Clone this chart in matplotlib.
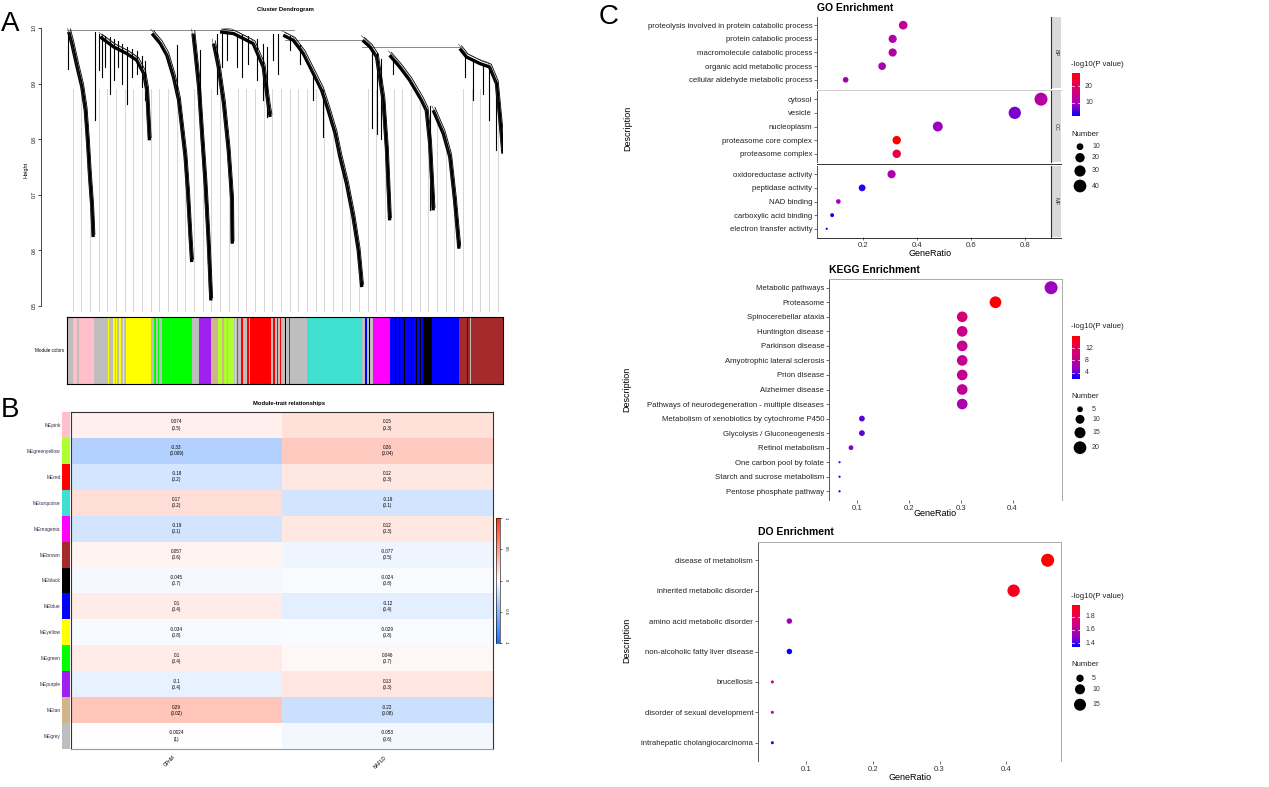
import numpy as np
import matplotlib
matplotlib.use("Agg")
import matplotlib.pyplot as plt
from matplotlib.colors import LinearSegmentedColormap

plt.rcParams['font.family'] = ['Liberation Sans', 'DejaVu Sans']

### ---------------- data ----------------

# A: main dendrogram branches (leaf order 0-1, merge height)
branch_pos = [
    [.004, .011, .023, .034, .042, .047, .052, .057, .060],
    [.076, .107, .137, .160, .176, .183, .189],
    [.195, .214, .229, .244, .256, .263, .271, .277, .282, .286],
    [.289, .294, .302, .309, .317, .324, .330],
    [.336, .347, .359, .370, .378, .379],
    [.351, .382, .397, .427, .450, .462, .466],
    [.496, .519, .542, .565, .584, .599, .615, .626, .641, .656, .668, .676],
    [.678, .695, .710, .725, .733, .740],
    [.740, .763, .786, .813, .824, .832, .840],
    [.840, .863, .878, .889, .899],
    [.901, .916, .947, .969, .985, .996, 1.0],
]
branch_height = [
    [.993, .972, .930, .894, .852, .798, .732, .678, .624],
    [.984, .966, .954, .942, .918, .888, .798],
    [.990, .972, .951, .912, .870, .822, .768, .702, .630, .579],
    [.990, .954, .894, .810, .720, .618, .510],
    [.972, .930, .864, .780, .690, .612],
    [.993, .990, .984, .972, .930, .858, .840],
    [.987, .978, .954, .918, .888, .852, .810, .768, .720, .660, .600, .534],
    [.978, .966, .948, .870, .780, .654],
    [.951, .930, .906, .870, .852, .792, .672],
    [.852, .810, .768, .690, .603],
    [.963, .948, .936, .930, .900, .810, .774],
]
twig_pos = [.002, .065, .073, .080, .088, .099, .107, .118, .126, .137, .149, .160, .172, .179,
            .252, .305, .344, .355, .366, .389, .401, .416, .435, .450, .458,
            .473, .485, .511, .534, .565, .588, .700, .710, .720, .748, .832,
            .912, .931, .954, .969, .985]
twig_top = [.993, .993, .990, .988, .986, .984, .980, .976, .972, .966, .962, .958, .950, .940,
            .970, .960, .990, .990, .990, .990, .988, .986, .980, .972, .966,
            .990, .990, .985, .970, .918, .888, .960, .955, .945, .940, .860,
            .950, .940, .934, .930, .900]
twig_bottom = [.927, .834, .924, .912, .930, .882, .906, .930, .900, .864, .912, .918, .894, .870,
               .880, .860, .882, .930, .942, .930, .912, .936, .906, .870, .840,
               .942, .918, .960, .936, .870, .804, .820, .810, .800, .918, .672,
               .912, .870, .882, .834, .780]
merge_left = [0.0, 0.50, 0.676]
merge_right = [0.52, 0.676, 0.901]
merge_height = [0.996, 0.978, 0.965]

# A: module colour bar (drawn in order, later segments on top)
module_start = [0, .013, .024, .061, .093, .100, .106, .113, .120, .128, .135, .193, .200, .208, .219,
                .286, .302, .331, .347, .355, .366, .382, .386, .391, .398, .412, .418, .469, .472, .481,
                .488, .496, .500, .510, .550, .676, .684, .692, .702, .740, .752, .762, .772, .788, .800,
                .810, .817, .838, .899, .905, .918, .925, .939]
module_end = [.013, .061, .027, .135, .096, .102, .109, .115, .123, .130, .193, .219, .203, .212, .286,
              .302, .331, .347, .382, .360, .369, .412, .388, .393, .404, .469, .420, .496, .476, .484,
              .491, .550, .503, .512, .676, .702, .687, .695, .740, .817, .755, .764, .776, .792, .803,
              .813, .838, .899, .939, .907, .920, .927, 1.0]
module_color = ['grey', 'pink', 'grey', 'grey', 'yellow', 'yellow', 'yellow', 'yellow', 'yellow', 'yellow',
                'yellow', 'grey', 'green', 'green', 'green', 'grey', 'purple', 'tan', 'greenyellow', 'tan',
                'grey', 'grey', 'pink', 'magenta', 'red', 'red', 'grey', 'grey', 'red', 'red', 'red', 'grey',
                'black', 'brown', 'turquoise', 'grey', 'blue', 'black', 'magenta', 'blue', 'black', 'black',
                'black', 'black', 'black', 'black', 'black', 'blue', 'brown', 'blue', 'blue', 'grey', 'brown']
r_colors = {'grey': '#BEBEBE', 'pink': '#FFC0CB', 'yellow': '#FFFF00', 'green': '#00FF00',
            'purple': '#A020F0', 'tan': '#D2B48C', 'greenyellow': '#ADFF2F', 'red': '#FF0000',
            'magenta': '#FF00FF', 'black': '#000000', 'brown': '#A52A2A', 'turquoise': '#40E0D0',
            'blue': '#0000FF'}

# B: module-trait relationships
modules = ['MEpink', 'MEgreenyellow', 'MEred', 'MEturquoise', 'MEmagenta', 'MEbrown', 'MEblack',
           'MEblue', 'MEyellow', 'MEgreen', 'MEpurple', 'MEtan', 'MEgrey']
traits = ['GPnM', 'NAFLD']
cor_t1 = [0.074, -0.33, -0.18, 0.17, -0.19, 0.057, -0.045, 0.1, -0.034, 0.1, -0.1, 0.29, -0.0024]
p_t1 = ['0.5', '0.009', '0.2', '0.2', '0.1', '0.6', '0.7', '0.4', '0.8', '0.4', '0.4', '0.02', '1']
cor_t2 = [0.15, 0.26, 0.12, -0.19, 0.12, -0.077, -0.024, -0.12, -0.029, 0.046, 0.13, -0.22, -0.053]
p_t2 = ['0.3', '0.04', '0.3', '0.1', '0.3', '0.5', '0.8', '0.4', '0.8', '0.7', '0.3', '0.08', '0.6']

# C: GO enrichment
go_terms = ['proteolysis involved in protein catabolic process', 'protein catabolic process',
            'macromolecule catabolic process', 'organic acid metabolic process',
            'cellular aldehyde metabolic process',
            'cytosol', 'vesicle', 'nucleoplasm', 'proteasome core complex', 'proteasome complex',
            'oxidoreductase activity', 'peptidase activity', 'NAD binding', 'carboxylic acid binding',
            'electron transfer activity']
go_class = ['BP'] * 5 + ['CC'] * 5 + ['MF'] * 5
go_ratio = [0.349, 0.310, 0.310, 0.271, 0.136, 0.859, 0.762, 0.477, 0.325, 0.325,
            0.306, 0.197, 0.109, 0.086, 0.066]
go_count = [17, 15, 15, 13, 7, 42, 37, 23, 16, 16, 15, 10, 5, 4, 3]
go_logp = [13.6, 11.8, 11.8, 10.3, 9.7, 12.3, 7.2, 9.0, 27.8, 22.6, 11.0, 3.3, 9.7, 3.3, 2.0]

# C: KEGG enrichment
kegg_terms = ['Metabolic pathways', 'Proteasome', 'Spinocerebellar ataxia', 'Huntington disease',
              'Parkinson disease', 'Amyotrophic lateral sclerosis', 'Prion disease', 'Alzheimer disease',
              'Pathways of neurodegeneration - multiple diseases',
              'Metabolism of xenobiotics by cytochrome P450', 'Glycolysis / Gluconeogenesis',
              'Retinol metabolism', 'One carbon pool by folate', 'Starch and sucrose metabolism',
              'Pentose phosphate pathway']
kegg_ratio = [0.474, 0.367, 0.303, 0.303, 0.303, 0.303, 0.303, 0.303, 0.303, 0.110, 0.110, 0.089,
              0.067, 0.067, 0.067]
kegg_count = [21, 17, 14, 14, 14, 14, 14, 14, 14, 5, 5, 4, 3, 3, 3]
kegg_logp = [5.7, 16.0, 10.4, 9.0, 8.7, 8.5, 8.4, 8.2, 6.8, 4.0, 4.0, 5.0, 3.6, 2.6, 1.9]

# C: DO enrichment
do_terms = ['disease of metabolism', 'inherited metabolic disorder', 'amino acid metabolic disorder',
            'non-alcoholic fatty liver disease', 'brucellosis', 'disorder of sexual development',
            'intrahepatic cholangiocarcinoma']
do_ratio = [0.462, 0.411, 0.075, 0.075, 0.0495, 0.0495, 0.0495]
do_count = [18, 16, 3, 3, 2, 2, 2]
do_logp = [1.98, 1.92, 1.53, 1.34, 1.60, 1.60, 1.36]

### ---------------- figure ----------------
W, H = 1269, 787
fig = plt.figure(figsize=(W / 100, H / 100), dpi=100)


def px_axes(x0, y0, x1, y1, **kw):
    return fig.add_axes([x0 / W, 1 - y1 / H, (x1 - x0) / W, (y1 - y0) / H], **kw)


# overlay in pixel coordinates for free text and legend keys
ov = fig.add_axes([0, 0, 1, 1], zorder=10)
ov.set_xlim(0, W)
ov.set_ylim(H, 0)
ov.patch.set_alpha(0)
ov.axis('off')

ov.text(1, 24, 'A', fontsize=20, va='center', ha='left')
ov.text(1, 410, 'B', fontsize=20, va='center', ha='left')
ov.text(599, 17, 'C', fontsize=20, va='center', ha='left')

### A: dendrogram
ax = px_axes(67, 28, 503, 312)
ax.set_xlim(0, 1)
ax.set_ylim(0.4892, 1.0)
leaves = np.arange(0.013, 1.0, 0.0199)
for lp in leaves:
    top = 0.89
    for bp, bh in zip(branch_pos, branch_height):
        if bp[0] <= lp <= bp[-1]:
            top = min(top, np.interp(lp, bp, bh))
    ax.plot([lp, lp], [0.4892, top], color='#8C8C8C', lw=0.6, ls=(0, (1.0, 1.4)))
for l, r, h in zip(merge_left, merge_right, merge_height):
    ax.plot([l, r], [h, h], color='#777777', lw=0.6)
for p, t, b in zip(twig_pos, twig_top, twig_bottom):
    ax.plot([p, p], [t, b], color='black', lw=0.8)
for bp, bh in zip(branch_pos, branch_height):
    bp = np.array(bp)
    bh = np.array(bh)
    ax.plot(bp, bh, color='black', lw=2.4, solid_capstyle='butt')
    ax.plot(bp + 0.004, bh + 0.005, color='black', lw=0.6)
    ax.plot(bp - 0.003, bh + 0.008, color='#333333', lw=0.4)
for s in ['top', 'right', 'bottom']:
    ax.spines[s].set_visible(False)
ax.spines['left'].set_position(('outward', 19))
ax.spines['left'].set_bounds(0.5, 1.0)
ax.spines['left'].set_linewidth(0.5)
ax.set_xticks([])
ax.set_yticks([0.5, 0.6, 0.7, 0.8, 0.9, 1.0])
ax.set_yticklabels(['0.5', '0.6', '0.7', '0.8', '0.9', '1.0'], rotation=90, va='center', fontsize=3.5)
ax.tick_params(axis='y', length=2, width=0.5, pad=1)
ax.set_ylabel('Height', fontsize=4, labelpad=2)
ov.text(285, 10, 'Cluster Dendrogram', fontsize=4.2, fontweight='bold', ha='center', va='center')

cb = px_axes(67, 317, 503, 384)
for s0, s1, c in zip(module_start, module_end, module_color):
    cb.axvspan(s0, s1, color=r_colors[c], lw=0)
cb.set_xlim(0, 1)
cb.set_ylim(0, 1)
cb.set_xticks([])
cb.set_yticks([])
for s in cb.spines.values():
    s.set_linewidth(0.8)
ov.text(64, 351, 'Module colors', fontsize=3.3, ha='right', va='center')

### B: module-trait heatmap
hm_cmap = LinearSegmentedColormap.from_list('bwr_wgcna', ['#1874FF', '#FFFFFF', '#FF3A10'])
vals = np.column_stack([cor_t1, cor_t2])
hm = px_axes(71, 412, 493, 749)
hm.pcolormesh(np.arange(3), np.arange(len(modules) + 1), vals, cmap=hm_cmap, vmin=-1, vmax=1)
hm.set_xlim(0, 2)
hm.set_ylim(len(modules), 0)
for i in range(len(modules)):
    hm.text(0.5, i + 0.5, f'{cor_t1[i]}\n({p_t1[i]})', fontsize=3.3, ha='center', va='center',
            linespacing=1.3)
    hm.text(1.5, i + 0.5, f'{cor_t2[i]}\n({p_t2[i]})', fontsize=3.3, ha='center', va='center',
            linespacing=1.3)
hm.set_xticks([0.5, 1.5])
hm.set_xticklabels(traits, rotation=45, ha='right', fontsize=3.5)
hm.set_yticks([])
hm.tick_params(axis='x', length=0, pad=4)
for s in hm.spines.values():
    s.set_color('#333333')
    s.set_linewidth(0.8)
hm.spines['bottom'].set_color('#999999')

strip = px_axes(62, 412, 70, 749)
strip.barh(np.arange(len(modules)) + 0.5, 1, height=1,
           color=[r_colors[m[2:]] for m in modules])
strip.set_xlim(0, 1)
strip.set_ylim(len(modules), 0)
strip.set_yticks(np.arange(len(modules)) + 0.5)
strip.set_yticklabels(modules, fontsize=3.5, color='#3A2A4A')
strip.tick_params(axis='y', length=0, pad=1)
strip.set_xticks([])
for s in strip.spines.values():
    s.set_visible(False)
ov.text(289, 404, 'Module-trait relationships', fontsize=4.2, fontweight='bold', ha='center', va='center')

cbar = px_axes(496, 518, 500, 643)
cbar.imshow(np.linspace(-1, 1, 512).reshape(-1, 1), cmap=hm_cmap, origin='lower', aspect='auto',
            extent=[0, 1, -1, 1], interpolation='bilinear')
cbar.set_xticks([])
cbar.yaxis.tick_right()
cbar.set_yticks([-1, -0.5, 0, 0.5, 1])
cbar.set_yticklabels(['-1', '-0.5', '0', '0.5', '1'], rotation=-90, fontsize=3, va='center')
cbar.tick_params(axis='y', length=1.5, width=0.4, pad=1)
for s in cbar.spines.values():
    s.set_linewidth(0.4)

### C: enrichment dot plots
dot_cmap = LinearSegmentedColormap.from_list('blue_red_lab', ['#0000FF', '#9A00C2', '#CA0089', '#E80050', '#FF0000'])


def size_scale(lo, hi, d0, d1):
    def f(n):
        d = d0 + (d1 - d0) * np.sqrt(max(n - lo, 0) / (hi - lo))
        return (d * 0.72) ** 2
    return f


def dot_panel(ax, terms, ratio, count, logp, vmin, vmax, sfun, xlim, xticks, show_x):
    n = len(terms)
    y = np.arange(n, 0, -1)
    ax.scatter(ratio, y, s=[sfun(c) for c in count], c=logp, cmap=dot_cmap, vmin=vmin, vmax=vmax,
               edgecolors='none', zorder=3, clip_on=False)
    ax.set_xlim(*xlim)
    ax.set_ylim(0.4, n + 0.6)
    ax.set_yticks(y)
    ax.set_yticklabels(terms, fontsize=5.6, color='#222222')
    ax.set_xticks(xticks)
    ax.tick_params(axis='both', length=2, width=0.5, color='#333333', pad=1.5)
    if show_x:
        ax.set_xticklabels([f'{t:g}' for t in xticks], fontsize=5.6, color='#333333')
    else:
        ax.set_xticklabels([])
        ax.tick_params(axis='x', length=0)
    ax.spines['left'].set_color('#555555')
    ax.spines['left'].set_linewidth(0.7)


def legend(vmin, vmax, ticks, y_title, y0, y1, y_num, key_vals, key_ys, sfun):
    ov.text(1071, y_title, '-log10(P value)', fontsize=5.6, ha='left', va='center', color='#222222')
    cax = px_axes(1072, y0, 1080, y1)
    cax.imshow(np.linspace(vmin, vmax, 512).reshape(-1, 1), cmap=dot_cmap, origin='lower',
               aspect='auto', extent=[0, 1, vmin, vmax], interpolation='bilinear')
    for t in ticks:
        cax.plot([0, 0.22], [t, t], color='white', lw=0.5)
        cax.plot([0.78, 1], [t, t], color='white', lw=0.5)
    cax.set_xlim(0, 1)
    cax.set_ylim(vmin, vmax)
    cax.axis('off')
    for t in ticks:
        yy = y1 - (t - vmin) / (vmax - vmin) * (y1 - y0)
        ov.text(1085, yy, f'{t:g}', fontsize=5, ha='left', va='center', color='#333333')
    ov.text(1071, y_num, 'Number', fontsize=5.6, ha='left', va='center', color='#222222')
    for v, yk in zip(key_vals, key_ys):
        ov.scatter([1080], [yk], s=sfun(v), color='black', edgecolors='none')
        ov.text(1092, yk, str(v), fontsize=5, ha='left', va='center', color='#333333')


# GO
go_size = size_scale(3, 42, 2.2, 13)
go_lim = (2.0, 27.8)
facets = [('BP', 17, 88), ('CC', 91, 162), ('MF', 166, 237)]
for k, (name, y0, y1) in enumerate(facets):
    idx = [i for i, c in enumerate(go_class) if c == name]
    fa = px_axes(817, y0, 1051, y1)
    dot_panel(fa, [go_terms[i] for i in idx], [go_ratio[i] for i in idx], [go_count[i] for i in idx],
              [go_logp[i] for i in idx], go_lim[0], go_lim[1], go_size, (0.03, 0.896),
              [0.2, 0.4, 0.6, 0.8], k == 2)
    for s in ['top', 'right', 'bottom']:
        fa.spines[s].set_visible(False)
    sa = px_axes(1051, y0, 1061, y1)
    sa.set_facecolor('#D9D9D9')
    sa.set_xticks([])
    sa.set_yticks([])
    for s in ['top', 'right', 'bottom']:
        sa.spines[s].set_visible(False)
    sa.spines['left'].set_color('#333333')
    sa.spines['left'].set_linewidth(0.8)
    sa.text(0.5, 0.5, name, rotation=-90, fontsize=4, ha='center', va='center', color='#333333',
            transform=sa.transAxes)
ov.plot([817, 1061], [89.5, 89.5], color='#CCCCCC', lw=0.7)
ov.plot([817, 1061], [164, 164], color='#333333', lw=0.7)
ov.plot([817, 1061], [237.5, 237.5], color='#333333', lw=0.7)
ov.text(817, 8, 'GO Enrichment', fontsize=7.5, fontweight='bold', ha='left', va='center')
ov.text(628, 128, 'Description', fontsize=6.5, rotation=90, ha='center', va='center')
ov.text(930, 253, 'GeneRatio', fontsize=6.5, ha='center', va='center')
legend(go_lim[0], go_lim[1], [10, 20], 65, 73, 116, 134, [10, 20, 30, 40], [146.7, 157.7, 171, 186], go_size)

# KEGG
kegg_size = size_scale(3, 21, 2.2, 13)
kegg_lim = (1.9, 16.0)
ka = px_axes(829, 279, 1062, 500)
dot_panel(ka, kegg_terms, kegg_ratio, kegg_count, kegg_logp, kegg_lim[0], kegg_lim[1], kegg_size,
          (0.0467, 0.495), [0.1, 0.2, 0.3, 0.4], True)
ka.spines['bottom'].set_visible(False)
for s in ['top', 'right']:
    ka.spines[s].set_color('#AAAAAA')
    ka.spines[s].set_linewidth(0.7)
ov.text(829, 270, 'KEGG Enrichment', fontsize=7.5, fontweight='bold', ha='left', va='center')
ov.text(627, 389, 'Description', fontsize=6.5, rotation=90, ha='center', va='center')
ov.text(935, 514, 'GeneRatio', fontsize=6.5, ha='center', va='center')
legend(kegg_lim[0], kegg_lim[1], [4, 8, 12], 327, 336, 379, 397, [5, 10, 15, 20],
       [409.3, 419.3, 432.7, 447.7], kegg_size)

# DO
do_size = size_scale(2, 18, 3, 13)
do_lim = (1.34, 1.98)
da = px_axes(758, 542, 1061, 761)
dot_panel(da, do_terms, do_ratio, do_count, do_logp, do_lim[0], do_lim[1], do_size,
          (0.028, 0.482), [0.1, 0.2, 0.3, 0.4], True)
da.spines['bottom'].set_visible(False)
for s in ['top', 'right']:
    da.spines[s].set_color('#AAAAAA')
    da.spines[s].set_linewidth(0.7)
ov.text(758, 532, 'DO Enrichment', fontsize=7.5, fontweight='bold', ha='left', va='center')
ov.text(627, 640, 'Description', fontsize=6.5, rotation=90, ha='center', va='center')
ov.text(910, 777, 'GeneRatio', fontsize=6.5, ha='center', va='center')
legend(do_lim[0], do_lim[1], [1.4, 1.6, 1.8], 596, 605, 647, 665, [5, 10, 15],
       [678.3, 689.3, 704.7], do_size)

fig.savefig('out.png', dpi=100)
